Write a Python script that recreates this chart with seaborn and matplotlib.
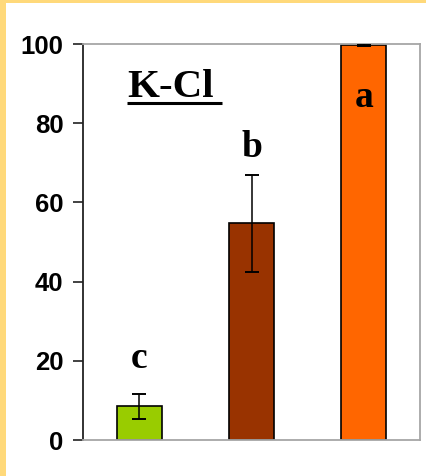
import matplotlib
matplotlib.use("Agg")
import matplotlib.pyplot as plt
import seaborn as sns
import pandas as pd
from matplotlib.patches import Rectangle
from matplotlib.lines import Line2D

# data
treatments = ["T1", "T2", "T3"]
means = [8.5, 54.7, 99.7]
errors = [3.1, 12.3, 0.3]
letters = ["c", "b", "a"]
colors = ["#99CC00", "#993300", "#FF6600"]
y_ticks = [0, 20, 40, 60, 80, 100]

# layout of the significance letters (data units)
letter_y = [18.2, 71.5, 84.2]

sns.set_theme(style="white")
plt.rcParams["font.family"] = ["Liberation Sans", "DejaVu Sans"]
plt.rcParams["text.color"] = "black"
plt.rcParams["ytick.color"] = "black"

fig = plt.figure(figsize=(4.26, 4.76), dpi=100, facecolor="white")

# yellow frame along top and left edges
fig.patches.append(Rectangle((0, 1 - 3.3 / 476), 1, 3.3 / 476, transform=fig.transFigure,
                             facecolor="#FFD97A", edgecolor="none", zorder=0))
fig.patches.append(Rectangle((0, 0), 5.7 / 426, 1, transform=fig.transFigure,
                             facecolor="#FFD97A", edgecolor="none", zorder=0))

ax = fig.add_axes([83 / 426, 1 - 440 / 476, 337 / 426, 396 / 476])

df = pd.DataFrame({"treatment": treatments, "mean": means})
sns.barplot(data=df, x="treatment", y="mean", hue="treatment", palette=colors,
            saturation=1, width=0.4, edgecolor="black", linewidth=1.2, legend=False,
            ax=ax, zorder=2)

ax.errorbar(range(len(treatments)), means, yerr=errors, fmt="none", ecolor="black",
            elinewidth=1.1, capsize=5, capthick=1.4, zorder=3)

for i, (lab, yy) in enumerate(zip(letters, letter_y)):
    ax.text(i, yy, lab, ha="center", va="baseline", fontsize=27, fontweight="bold",
            color="black", family=["Liberation Serif", "DejaVu Serif"], zorder=4)

# panel title with underline
ax.text(0.1306, 0.866, "K-Cl", transform=ax.transAxes, ha="left", va="baseline",
        fontsize=29.5, fontweight="bold", color="black",
        family=["Liberation Serif", "DejaVu Serif"])
ax.add_line(Line2D([0.1306, 0.4125], [0.851, 0.851], transform=ax.transAxes,
                   color="black", linewidth=2.2, solid_capstyle="butt"))

ax.set_ylim(0, 100)
ax.set_xlim(-0.5, 2.5)
ax.set_yticks(y_ticks)
ax.set_yticklabels([str(t) for t in y_ticks], fontsize=18.5, fontweight="bold",
                   color="black")
ax.set_xticks([])
ax.set_xlabel("")
ax.set_ylabel("")
ax.tick_params(axis="y", direction="out", length=7, width=1.2, color="#222222",
               pad=7, left=True)

for side in ["top", "right", "bottom"]:
    ax.spines[side].set_color("#A6A6A6")
    ax.spines[side].set_linewidth(1.3)
ax.spines["left"].set_color("#222222")
ax.spines["left"].set_linewidth(1.3)

fig.savefig("out.png", dpi=100, facecolor="white")
